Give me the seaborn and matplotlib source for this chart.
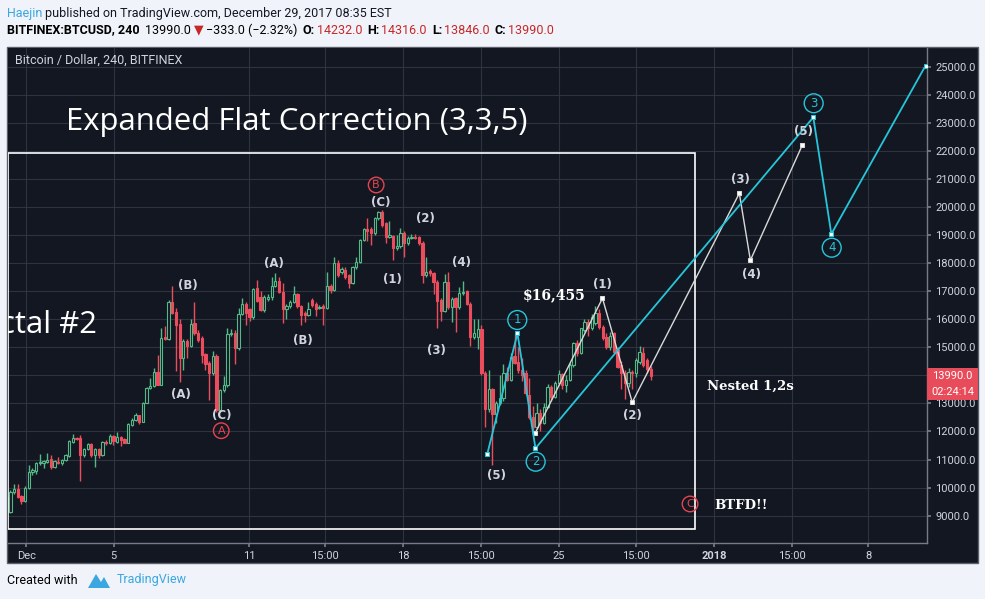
import matplotlib
matplotlib.use('Agg')
import matplotlib.pyplot as plt
from matplotlib.patches import Rectangle, Polygon
from matplotlib.transforms import blended_transform_factory
import numpy as np
import pandas as pd
import seaborn as sns

# 4h candles, BITFINEX:BTCUSD, Nov 30 - Dec 29 2017
opens = [9676, 9141, 9830, 9937, 9700, 9534, 9973, 10567, 10600, 10864,
         10880, 10923, 11006, 10721, 10923, 10887, 10983, 11125, 11636, 11779,
         11779, 11161, 11375, 11553, 11161, 11375, 11161, 11636, 11577, 11838,
         11636, 11791, 11719, 11600, 12230, 12409, 12575, 12350, 13027, 13538,
         13621, 14108, 13657, 15380, 15285, 16626, 16270, 15830, 14607, 15225,
         15050, 15877, 15522, 15320, 14750, 14430, 14072, 14690, 12765, 13478,
         13657, 15474, 15522, 14964, 16187, 16543, 16353, 16068, 17100, 16804,
         16329, 16720, 16780, 17184, 17374, 16982, 16353, 16472, 16630, 16900,
         16472, 16210, 16150, 16686, 16543, 16400, 16472, 16400, 17184, 17042,
         18016, 17700, 17754, 17576, 17300, 17850, 18052, 18824, 19204, 19204,
         19062, 19596, 19834, 19418, 18940, 18966, 18527, 18610, 19085, 18705,
         18883, 18942, 18942, 18730, 17576, 17730, 17660, 17340, 16690, 16300,
         17340, 16420, 16740, 16420, 16920, 17000, 16560, 15370, 15370, 15640,
         14075, 12790, 13500, 12622, 13000, 13180, 14100, 13835, 14690, 14488,
         14190, 14072, 13300, 12527, 12170, 12646, 12290, 12884, 13597, 13240,
         13715, 14030, 13640, 13834, 14369, 15140, 14780, 15615, 15913, 15675,
         15880, 16210, 15735, 15378, 15022, 15497, 14900, 14369, 14072, 13715,
         14130, 14070, 14488, 14785, 14547, 14232]
highs = [9720, 9900, 10115, 10115, 9750, 10050, 10800, 10700, 10900, 11200,
         11000, 11230, 11150, 11000, 11080, 11020, 11200, 11700, 11910, 11800,
         11874, 11400, 11600, 11600, 11400, 11400, 11650, 11700, 11900, 11860,
         11993, 11850, 11760, 12300, 12490, 12650, 12600, 13050, 13600, 13900,
         14250, 14720, 15700, 15750, 16700, 17200, 16400, 16000, 15300, 15300,
         16000, 16600, 15600, 15400, 14800, 14500, 14880, 14760, 13500, 13960,
         15700, 15650, 15600, 16400, 16750, 16600, 16400, 17100, 17400, 17000,
         16850, 16900, 17500, 17650, 17500, 17300, 16550, 16700, 17200, 16950,
         16500, 16300, 16620, 16750, 16600, 16500, 16550, 17700, 17250, 18200,
         18100, 17850, 17850, 17600, 17900, 18200, 18850, 19250, 19600, 19300,
         19650, 19850, 19900, 19450, 19500, 19000, 19000, 19250, 19150, 18950,
         19050, 19050, 18980, 18800, 18200, 17800, 17700, 17400, 16750, 17600,
         17700, 16800, 16800, 17160, 17350, 17050, 16600, 16000, 16000, 15800,
         14150, 14200, 13550, 13100, 14000, 14400, 14300, 14800, 15480, 15000,
         14600, 14200, 13900, 12900, 13000, 12800, 13000, 13700, 13650, 13800,
         14200, 14100, 14000, 14450, 15200, 15250, 15700, 16000, 16000, 16200,
         16455, 16350, 15800, 15500, 15550, 15550, 15000, 14500, 14200, 14250,
         14200, 14600, 15050, 15000, 14600, 14316]
lows = [9100, 9080, 9780, 9640, 9420, 9500, 9950, 10450, 10500, 10820,
        10700, 10880, 10650, 10690, 10850, 10800, 10950, 11100, 11600, 11700,
        10246, 11100, 11350, 11100, 10745, 11050, 11140, 11500, 11550, 11530,
        11600, 11494, 11580, 11580, 12200, 12380, 12270, 12320, 13000, 13500,
        13600, 13650, 13640, 15250, 15250, 16200, 14140, 13780, 14200, 14600,
        15000, 15450, 15200, 14450, 14200, 13130, 14000, 12700, 12700, 13400,
        13600, 15400, 14400, 14900, 16150, 15800, 15950, 16000, 16600, 16280,
        16250, 16650, 16700, 17150, 16950, 15850, 16000, 16400, 16580, 16400,
        15800, 15900, 16100, 16450, 16100, 16350, 15800, 16380, 16950, 17000,
        17500, 17600, 17450, 17100, 17250, 17800, 18000, 18780, 18800, 18650,
        19000, 19550, 19300, 18700, 18900, 18100, 18450, 18550, 18200, 18650,
        18850, 18850, 18650, 17300, 17500, 17550, 16900, 15700, 15950, 16250,
        16350, 15900, 15550, 16380, 16880, 16500, 15050, 15300, 14950, 14000,
        12150, 12700, 10800, 12300, 12950, 13100, 13800, 13800, 14400, 14100,
        13800, 13300, 12450, 11934, 12100, 12000, 12250, 12850, 13100, 13200,
        13650, 13500, 13400, 13800, 14300, 14700, 14750, 15550, 15400, 15600,
        15800, 15650, 15250, 14950, 14900, 14800, 14250, 13500, 13140, 13600,
        13500, 13950, 14400, 14300, 14100, 13846]
closes = [9141, 9830, 9937, 9676, 9534, 9973, 10543, 10626, 10864, 10923,
          10959, 10983, 10721, 10947, 10887, 10983, 11161, 11672, 11755, 11731,
          11161, 11375, 11553, 11161, 11375, 11161, 11624, 11577, 11838, 11672,
          11791, 11696, 11600, 12266, 12408, 12575, 12350, 13027, 13562, 13621,
          14108, 13657, 15320, 15285, 16626, 16234, 15795, 14607, 15225, 15058,
          15830, 15498, 15260, 14726, 14405, 14072, 14690, 12765, 13478, 13657,
          15474, 15522, 14964, 16187, 16543, 16210, 16068, 17066, 16660, 16329,
          16780, 16800, 17184, 17374, 16982, 16353, 16472, 16630, 16900, 16472,
          16150, 16150, 16353, 16507, 16353, 16450, 16400, 17184, 17042, 18016,
          17576, 17800, 17516, 17300, 17850, 18052, 18824, 19204, 19157, 19062,
          19596, 19834, 19358, 18943, 18990, 18527, 18610, 19085, 18705, 18883,
          18942, 18883, 18730, 17576, 17695, 17660, 17340, 16660, 16300, 17340,
          16420, 16710, 16420, 16920, 16980, 16560, 15354, 15500, 15640, 14075,
          12790, 13500, 12622, 13000, 13180, 14100, 13835, 14642, 14428, 14190,
          14012, 13359, 12527, 12170, 12646, 12290, 12884, 13597, 13240, 13715,
          14030, 13640, 13834, 14369, 15140, 14780, 15675, 15913, 15675, 16090,
          16210, 15735, 15319, 15022, 15400, 14844, 14310, 14072, 13715, 14130,
          14070, 14547, 14844, 14369, 14232, 13990]

# projected wave counts (bar index, price)
wave_x = [130.6, 138.8, 143.7, 219.2, 224.1, 249.7]
wave_y = [11197, 15498, 11400, 23197, 19037, 25036]
sub_x = [143.6, 161.9, 170.0, 199.1, 202.1, 216.2]
sub_y = [11934, 16746, 13039, 20488, 18100, 22199]

price_ticks = list(range(9000, 25001, 1000))
time_pos = [5.3, 29.1, 65.8, 86.4, 107.7, 128.9, 150.1, 171.0, 192.2, 213.4, 234.2]
time_labels = ['Dec', '5', '11', '15:00', '18', '15:00', '25', '15:00', '2018', '15:00', '8']

last_price = 13990.0
change = '\u2212333.0 (\u22122.32%)'
ohlc_last = [('O:', '14232.0'), ('H:', '14316.0'), ('L:', '13846.0'), ('C:', '13990.0')]
countdown = '02:24:14'

BG = '#131722'
GREEN = '#53b987'
RED = '#eb4d5c'
CYAN = '#26c6da'
LBL = '#d1d4dc'
DARKRED = '#c62828'
BLUE = '#3aa7e0'
UI = ['Roboto', 'DejaVu Sans']

sns.set_theme(style='dark')
plt.rcParams['font.family'] = ['DejaVu Sans']

W, H = 985, 599
fig = plt.figure(figsize=(W / 100, H / 100), dpi=100)
fig.patch.set_facecolor('#f0f3fa')
renderer = fig.canvas.get_renderer()


def fx(px):
    return px / W


def fy(py):
    return 1 - py / H


def chain(pieces, x, y, size=8.5):
    # write text pieces one after another along a line (pixel coords)
    for txt, color, weight, gap in pieces:
        t = fig.text(fx(x), fy(y), txt, color=color, fontsize=size, fontweight=weight,
                     family=UI, va='center')
        x += t.get_window_extent(renderer).width + gap


# dark chart panel
fig.patches.append(Rectangle((fx(7), fy(563)), (978 - 7) / W, (563 - 47) / H,
                             transform=fig.transFigure, fc=BG, ec='#5d606b', lw=1, zorder=0))

ax = fig.add_axes([fx(8), fy(542.7), 919 / W, (542.7 - 48) / H])
ax.set_zorder(1)
ax.set_facecolor(BG)

df = pd.DataFrame({'o': opens, 'h': highs, 'l': lows, 'c': closes})
df['k'] = np.arange(len(df))
up = df['c'] >= df['o']

ax.vlines(df['k'], df['l'], df['h'], colors=np.where(up, GREEN, RED), lw=1, zorder=2)
ax.bar(df['k'], (df['c'] - df['o']).abs().clip(lower=20), bottom=np.minimum(df['o'], df['c']),
       width=0.62, color=np.where(up, BG, RED), edgecolor=np.where(up, GREEN, RED),
       linewidth=0.8, zorder=3)

# the white box around the correction
ax.add_patch(Rectangle((0.4, 8524), 186.6, 21924 - 8524, fc='none', ec='white', lw=1.2, zorder=4))

sns.lineplot(x=wave_x, y=wave_y, sort=False, estimator=None, color=CYAN, lw=1.3,
             marker='s', ms=3.5, mfc='white', mec=CYAN, ax=ax, zorder=6)
sns.lineplot(x=sub_x, y=sub_y, sort=False, estimator=None, color='#d9d9d9', lw=1,
             marker='s', ms=3.5, mfc='white', mec='#d9d9d9', ax=ax, zorder=5)

ax.set_xlim(0.35, 250.1)
ax.set_ylim(8035, 25666)

# labels
plain = [('(B)', 49.3, 17195), ('(A)', 47.3, 13299), ('(C)', 58.5, 12586),
         ('(A)', 72.6, 17993), ('(B)', 80.4, 15224), ('(C)', 101.6, 20153),
         ('(1)', 104.7, 17398), ('(2)', 113.8, 19597), ('(3)', 116.7, 14878),
         ('(4)', 123.7, 18029), ('(5)', 133.0, 10413), ('(1)', 162.0, 17220),
         ('(2)', 170.1, 12562), ('(3)', 199.3, 20962), ('(4)', 202.3, 17601),
         ('(5)', 216.5, 22683)]
for t, x, y in plain:
    ax.text(x, y, t, color=LBL, fontsize=8.5, fontweight='bold', ha='center', va='center', zorder=7)

for t, x, y in [('1', 138.75, 15972), ('2', 143.75, 10922), ('3', 219.3, 23696), ('4', 224.2, 18549)]:
    ax.text(x, y, t, color=CYAN, fontsize=8.5, ha='center', va='center', zorder=7,
            bbox=dict(boxstyle='circle,pad=0.25', fc='none', ec=CYAN, lw=1))
for t, x, y in [('A', 58.3, 12027), ('B', 100.4, 20784), ('C', 185.7, 9415)]:
    ax.text(x, y, t, color='#e8434e', fontsize=8, ha='center', va='center', zorder=7,
            bbox=dict(boxstyle='circle,pad=0.25', fc='none', ec='#e8434e', lw=1))

ax.text(16.1, 23029, 'Expanded Flat Correction (3,3,5)', color='white', fontsize=22.4,
        family='Open Sans', ha='left', va='center', zorder=7)
ax.text(24.6, 15794, 'Fractal #2', color='white', fontsize=22.4, family='Open Sans',
        ha='right', va='center', zorder=7, clip_on=True)
ax.text(148.7, 16864, '$16,455', color='white', fontsize=10, family='DejaVu Serif',
        fontweight='bold', ha='center', va='center', zorder=7)
ax.text(190.3, 13620, 'Nested 1,2s', color='white', fontsize=9.5, family='DejaVu Serif',
        fontweight='bold', ha='left', va='center', zorder=7)
ax.text(192.2, 9344, 'BTFD!!', color='white', fontsize=9.5, family='DejaVu Serif',
        fontweight='bold', ha='left', va='center', zorder=7)

# axes styling
ax.set_xticks(time_pos, time_labels)
ax.set_yticks(price_ticks, [f'{v:.1f}' for v in price_ticks])
ax.yaxis.tick_right()
ax.grid(True, color='#2e3340', lw=0.8)
ax.set_axisbelow(True)
for s in ['top', 'left']:
    ax.spines[s].set_visible(False)
for s in ['right', 'bottom']:
    ax.spines[s].set_color('#787b86')
    ax.spines[s].set_linewidth(1)
ax.tick_params(axis='y', colors='#787b86', labelcolor=LBL, labelsize=8, length=3, pad=3,
               direction='out', right=True, left=False)
ax.tick_params(axis='x', colors='#787b86', labelcolor=LBL, labelsize=8, length=3, pad=3,
               direction='out', bottom=True)
for lab in ax.get_xticklabels() + ax.get_yticklabels():
    lab.set_family(UI)
    if lab.get_text() == '2018':
        lab.set_fontweight('bold')

# last price / countdown boxes on the price scale
bt = blended_transform_factory(ax.transAxes, ax.transData)
ax.add_patch(Rectangle((1.0, last_price - 285), 51 / 919, 570, transform=bt, fc='#e84b5a',
                       ec='none', clip_on=False, zorder=8))
ax.add_patch(Rectangle((1.0, last_price - 885), 51 / 919, 570, transform=bt, fc='#e84b5a',
                       ec='none', clip_on=False, zorder=8))
ax.text(1.0 + 25.5 / 919, last_price, f'{last_price:.1f}', transform=bt, color='white',
        fontsize=8, family=UI, ha='center', va='center', zorder=9, clip_on=False)
ax.text(1.0 + 25.5 / 919, last_price - 600, countdown, transform=bt, color='white',
        fontsize=8, family=UI, ha='center', va='center', zorder=9, clip_on=False)

fig.text(fx(15), fy(60), 'Bitcoin / Dollar, 240, BITFINEX', color=LBL, fontsize=9,
         family=UI, va='center')

# header
chain([('Haejin', BLUE, 'normal', 3),
       ('published on TradingView.com, December 29, 2017 08:35 EST', '#131722', 'normal', 0)],
      7, 13, 9)
line2 = [('BITFINEX:BTCUSD, 240', 'black', 'bold', 5), (f'{last_price:.1f}', 'black', 'normal', 3),
         ('\u25bc', DARKRED, 'normal', 3), (change, 'black', 'normal', 5)]
for lab, val in ohlc_last:
    line2 += [(lab, 'black', 'bold', 2), (val, DARKRED, 'normal', 5)]
chain(line2, 7, 30, 9)

# footer
fig.text(fx(7), fy(580), 'Created with', color='black', fontsize=9, family=UI, va='center')
fig.patches.append(Polygon([(fx(88), fy(588)), (fx(96), fy(574)), (fx(101), fy(582)),
                            (fx(104), fy(577)), (fx(110), fy(588))], closed=True,
                           transform=fig.transFigure, fc=BLUE, ec='none'))
fig.text(fx(117), fy(580), 'TradingView', color=BLUE, fontsize=9, family=UI, va='center')

fig.savefig('out.png', dpi=100, facecolor=fig.get_facecolor())
